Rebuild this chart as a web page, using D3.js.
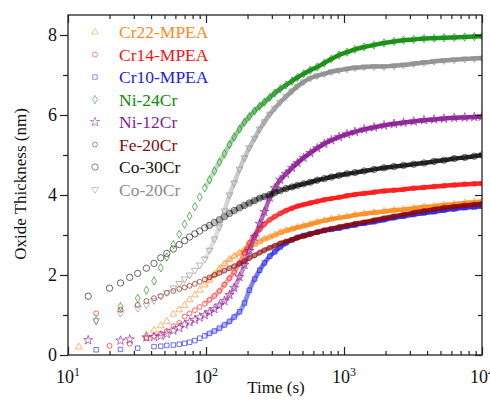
<!DOCTYPE html>
<html>
<head>
<meta charset="utf-8">
<script src="https://cdn.jsdelivr.net/npm/d3@7/dist/d3.min.js"></script>
<style>
  html, body { margin: 0; padding: 0; background: #fff; }
  svg { display: block; }
  svg text { font-family: "Liberation Serif", "Times New Roman", serif !important; }
</style>
</head>
<body>
<svg id="chart" width="490" height="407"></svg>
<script>
// Oxidation time (s), shared sampling grid for all alloys
const times = [12, 14, 16, 20, 24, 28, 32, 37, 42, 47, 52, 58, 64, 70, 76, 83, 90, 98, 106, 115,
  125, 136, 148, 160, 175, 190, 206, 225, 245, 265, 290, 315, 345, 380, 420, 460, 510, 570, 640, 720,
  810, 920, 1050, 1200, 1400, 1650, 1950, 2300, 2700, 3200, 3800, 4500, 5300, 6300, 7500, 8800, 10000];

// Oxide thickness (nm) per alloy; null = no sample at that time
const cr22 = [0.2, null, null, null, null, null, null, 0.5, 0.62, 0.73, 0.84, 1.02, 1.13, 1.24, 1.38, 1.5, 1.62, 1.75, 1.87, 2.01,
  2.15, 2.28, 2.39, 2.47, 2.55, 2.63, 2.69, 2.77, 2.84, 2.9, 2.95, 3.0, 3.06, 3.11, 3.15, 3.19, 3.23, 3.27, 3.32, 3.36,
  3.4, 3.43, 3.46, 3.5, 3.53, 3.56, 3.59, 3.62, 3.64, 3.67, 3.7, 3.72, 3.75, 3.77, 3.8, 3.82, 3.84];
const cr14 = [null, null, 1.04, 0.23, null, 0.28, null, 0.42, 0.48, 0.54, 0.6, 0.72, 0.8, 0.96, 1.04, 1.12, 1.2, 1.28, 1.38, 1.48,
  1.6, 1.76, 1.92, 2.07, 2.3, 2.55, 2.8, 2.99, 3.14, 3.27, 3.38, 3.46, 3.54, 3.61, 3.67, 3.72, 3.76, 3.8, 3.84, 3.88,
  3.91, 3.94, 3.98, 4.01, 4.04, 4.07, 4.1, 4.12, 4.14, 4.17, 4.19, 4.21, 4.23, 4.25, 4.27, 4.28, 4.29];
const cr10 = [null, null, 0.13, null, 0.14, null, 0.17, null, 0.21, 0.22, 0.24, 0.25, 0.27, 0.29, 0.32, 0.36, 0.42, 0.48, 0.54, 0.6,
  0.67, 0.75, 0.84, 0.95, 1.08, 1.3, 1.62, 1.9, 2.12, 2.3, 2.47, 2.58, 2.7, 2.8, 2.88, 2.94, 2.99, 3.03, 3.07, 3.11,
  3.14, 3.17, 3.21, 3.25, 3.29, 3.33, 3.38, 3.43, 3.47, 3.51, 3.55, 3.58, 3.62, 3.65, 3.68, 3.7, 3.72];
const ni24 = [null, null, 0.86, null, 1.21, null, 1.42, 1.62, 1.85, 2.18, 2.45, 2.76, 3.02, 3.27, 3.47, 3.71, 3.95, 4.18, 4.38, 4.6,
  4.82, 5.03, 5.26, 5.45, 5.65, 5.82, 5.96, 6.1, 6.22, 6.32, 6.44, 6.55, 6.65, 6.75, 6.85, 6.94, 7.03, 7.12, 7.2, 7.3,
  7.4, 7.5, 7.57, 7.64, 7.7, 7.75, 7.8, 7.84, 7.87, 7.89, 7.91, 7.92, 7.93, 7.94, 7.95, 7.96, 7.97];
const ni12 = [null, 0.37, null, null, 0.36, 0.39, null, 0.44, 0.45, 0.48, 0.53, 0.61, 0.68, 0.76, 0.82, 0.88, 0.94, 1.0, 1.07, 1.15,
  1.24, 1.35, 1.5, 1.68, 1.95, 2.25, 2.6, 2.95, 3.28, 3.58, 3.93, 4.17, 4.38, 4.53, 4.68, 4.8, 4.93, 5.05, 5.17, 5.28,
  5.37, 5.45, 5.52, 5.58, 5.64, 5.69, 5.74, 5.78, 5.81, 5.84, 5.87, 5.89, 5.91, 5.93, 5.94, 5.95, 5.96];
const fe20 = [null, null, null, null, 1.13, null, 1.25, 1.35, 1.42, 1.47, 1.55, 1.6, 1.65, 1.69, 1.73, 1.78, 1.83, 1.89, 1.94, 2.0,
  2.05, 2.11, 2.17, 2.22, 2.28, 2.35, 2.42, 2.49, 2.56, 2.62, 2.68, 2.73, 2.79, 2.84, 2.88, 2.93, 2.97, 3.02, 3.07, 3.12,
  3.16, 3.2, 3.24, 3.28, 3.32, 3.37, 3.42, 3.47, 3.51, 3.56, 3.6, 3.64, 3.68, 3.71, 3.74, 3.76, 3.78];
const co30 = [null, 1.47, null, 1.67, 1.8, 1.94, 2.04, 2.17, 2.29, 2.43, 2.54, 2.65, 2.76, 2.86, 2.95, 3.03, 3.1, 3.18, 3.24, 3.31,
  3.38, 3.46, 3.54, 3.61, 3.68, 3.74, 3.8, 3.86, 3.92, 3.96, 4.01, 4.06, 4.11, 4.16, 4.2, 4.24, 4.28, 4.32, 4.37, 4.41,
  4.45, 4.49, 4.53, 4.56, 4.6, 4.64, 4.68, 4.71, 4.74, 4.77, 4.8, 4.84, 4.87, 4.91, 4.94, 4.97, 5.0];
const co20 = [null, null, 0.86, null, 1.04, null, 1.17, 1.25, 1.36, 1.47, 1.56, 1.68, 1.79, 1.9, 2.0, 2.12, 2.25, 2.4, 2.62, 2.9,
  3.2, 3.6, 4.0, 4.3, 4.65, 4.93, 5.18, 5.42, 5.65, 5.83, 6.02, 6.17, 6.32, 6.46, 6.6, 6.72, 6.83, 6.92, 6.98, 7.03,
  7.08, 7.12, 7.15, 7.18, 7.2, 7.21, 7.21, 7.23, 7.25, 7.28, 7.31, 7.34, 7.36, 7.38, 7.4, 7.41, 7.42];

const names = ["Cr22-MPEA", "Cr14-MPEA", "Cr10-MPEA", "Ni-24Cr", "Ni-12Cr", "Fe-20Cr", "Co-30Cr", "Co-20Cr"];
const values = [cr22, cr14, cr10, ni24, ni12, fe20, co30, co20];
const colors = ["#ff8a1c", "#ff1010", "#2020ee", "#0a8a0a", "#8a1a96", "#8b0a0a", "#111111", "#8c8c8c"];
const shapes = ["triUp", "circle", "square", "diamond", "star", "circle", "bigCircle", "triDown"];

const yMajor = [0, 2, 4, 6, 8];
const yMinor = [1, 3, 5, 7];
const xMajor = [10, 100, 1000, 10000];
const xMinor = [20, 30, 40, 50, 60, 70, 80, 90, 200, 300, 400, 500, 600, 700, 800, 900,
  2000, 3000, 4000, 5000, 6000, 7000, 8000, 9000];

const margin = { left: 68, right: 482, top: 15, bottom: 355 };
const bandFrom = 98;    // from here the samples are close enough to overlap
const bandSolid = 450;  // and from here they merge into a solid trace

const svg = d3.select("#chart");
const x = d3.scaleLog().domain([10, 10000]).range([margin.left, margin.right]);
const y = d3.scaleLinear().domain([0, 8.5]).range([margin.bottom, margin.top]);

const defs = svg.append("defs");
defs.append("clipPath").attr("id", "plotClip")
  .append("rect").attr("x", margin.left).attr("y", margin.top)
  .attr("width", margin.right - margin.left).attr("height", margin.bottom - margin.top);

colors.forEach((c, i) => {
  const grad = defs.append("linearGradient").attr("id", `band${i}`)
    .attr("gradientUnits", "userSpaceOnUse")
    .attr("x1", x(bandFrom)).attr("x2", x(bandSolid)).attr("y1", 0).attr("y2", 0);
  grad.append("stop").attr("offset", 0).attr("stop-color", c).attr("stop-opacity", 0.2);
  grad.append("stop").attr("offset", 1).attr("stop-color", c).attr("stop-opacity", 0.92);
});

function symbolPath(shape) {
  const s = {
    triUp: d3.symbol(d3.symbolTriangle, 20),
    triDown: d3.symbol(d3.symbolTriangle, 20),
    circle: d3.symbol(d3.symbolCircle, 19),
    bigCircle: d3.symbol(d3.symbolCircle, 32),
    square: d3.symbol(d3.symbolSquare, 20),
    diamond: d3.symbol(d3.symbolDiamond, 20),
    star: d3.symbol(d3.symbolStar, 26)
  }[shape];
  return s();
}
function symbolRotate(shape) { return shape === "triDown" ? " rotate(180)" : ""; }

const plot = svg.append("g").attr("clip-path", "url(#plotClip)");

values.forEach((vals, i) => {
  const pts = times.map((t, k) => ({ t, v: vals[k] })).filter(d => d.v !== null);
  const g = plot.append("g").attr("class", "series");
  const band = d3.line()
    .defined(d => d.t >= bandFrom)
    .x(d => x(d.t)).y(d => y(d.v))
    .curve(d3.curveMonotoneX);
  g.append("path")
    .attr("d", band(pts))
    .attr("fill", "none")
    .attr("stroke", `url(#band${i})`)
    .attr("stroke-width", 4.5)
    .attr("stroke-linecap", "butt");
  g.selectAll("path.pt").data(pts).join("path")
    .attr("class", "pt")
    .attr("d", symbolPath(shapes[i]))
    .attr("transform", d => `translate(${x(d.t)},${y(d.v)})` + symbolRotate(shapes[i]))
    .attr("fill", "none")
    .attr("stroke", colors[i])
    .attr("stroke-width", 0.9)
    .attr("stroke-opacity", 0.7);
});

// Frame
svg.append("rect")
  .attr("x", margin.left).attr("y", margin.top)
  .attr("width", margin.right - margin.left).attr("height", margin.bottom - margin.top)
  .attr("fill", "none").attr("stroke", "#222").attr("stroke-width", 1.3);

// Left axis (ticks outward)
const leftMajor = svg.append("g").attr("transform", `translate(${margin.left},0)`)
  .call(d3.axisLeft(y).tickValues(yMajor).tickSize(8).tickPadding(3).tickFormat(d3.format("d")));
svg.append("g").attr("transform", `translate(${margin.left},0)`)
  .call(d3.axisLeft(y).tickValues(yMinor).tickSize(5).tickFormat(() => ""));

// Right axis (ticks inward)
svg.append("g").attr("transform", `translate(${margin.right},0)`)
  .call(d3.axisLeft(y).tickValues(yMajor).tickSize(7).tickFormat(() => ""));
svg.append("g").attr("transform", `translate(${margin.right},0)`)
  .call(d3.axisLeft(y).tickValues(yMinor).tickSize(4).tickFormat(() => ""));

// Bottom axis (ticks inward)
svg.append("g").attr("transform", `translate(0,${margin.bottom})`)
  .call(d3.axisTop(x).tickValues(xMajor).tickSize(8).tickFormat(() => ""));
svg.append("g").attr("transform", `translate(0,${margin.bottom})`)
  .call(d3.axisTop(x).tickValues(xMinor).tickSize(4).tickFormat(() => ""));

// Top axis (ticks inward)
svg.append("g").attr("transform", `translate(0,${margin.top})`)
  .call(d3.axisBottom(x).tickValues(xMajor).tickSize(8).tickFormat(() => ""));
svg.append("g").attr("transform", `translate(0,${margin.top})`)
  .call(d3.axisBottom(x).tickValues(xMinor).tickSize(4).tickFormat(() => ""));

svg.selectAll(".domain").remove();
svg.selectAll(".tick line").attr("stroke", "#222").attr("stroke-width", 1.2);
leftMajor.selectAll(".tick text").attr("font-size", 18).attr("fill", "#111");

// Log tick labels 10^n
xMajor.forEach(v => {
  const t = svg.append("text")
    .attr("x", x(v)).attr("y", margin.bottom + 28)
    .attr("text-anchor", "middle")
    .attr("font-size", 18).attr("fill", "#111");
  t.append("tspan").text("10");
  t.append("tspan").attr("dy", -7).attr("font-size", 12).text(String(Math.round(Math.log10(v))));
});

// Axis titles
svg.append("text")
  .attr("x", 276).attr("y", 393)
  .attr("text-anchor", "middle").attr("font-size", 17).attr("fill", "#111")
  .text("Time (s)");
svg.append("text")
  .attr("transform", "translate(26,184) rotate(-90)")
  .attr("text-anchor", "middle").attr("font-size", 17).attr("fill", "#111")
  .text("Oxide Thickness (nm)");

// Legend
const legend = svg.append("g");
names.forEach((name, i) => {
  const cy = 32 + i * 22.5;
  legend.append("path")
    .attr("d", symbolPath(shapes[i]))
    .attr("transform", `translate(95,${cy})` + symbolRotate(shapes[i]))
    .attr("fill", "none").attr("stroke", colors[i])
    .attr("stroke-width", 0.9).attr("stroke-opacity", 0.55);
  legend.append("text")
    .attr("x", 119).attr("y", cy).attr("dy", "0.35em")
    .attr("font-size", 17.5).attr("fill", colors[i])
    .text(name);
});
</script>
</body>
</html>
